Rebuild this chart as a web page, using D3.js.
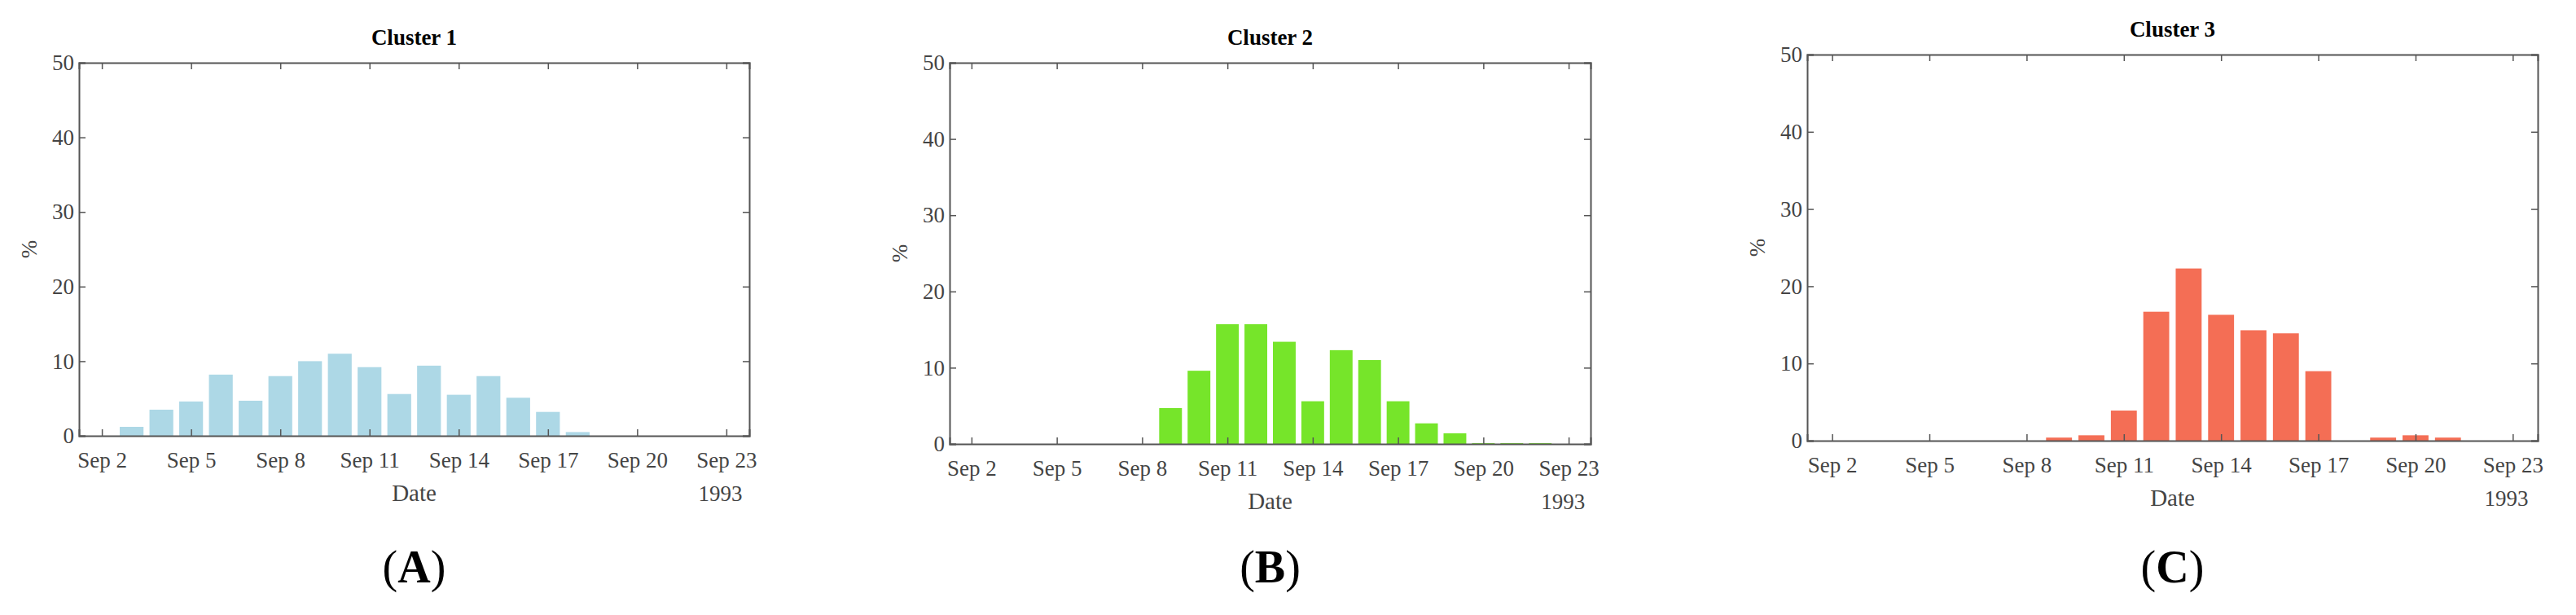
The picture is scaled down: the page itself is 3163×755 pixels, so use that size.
<!DOCTYPE html>
<html lang="en">
<head>
<meta charset="UTF-8">
<script src="https://d3js.org/d3.v7.min.js"></script>
<style>
  body { margin: 0; background: white; }
  svg text { font-family: "Liberation Serif", "DejaVu Serif", serif !important; }
</style>
</head>
<body>
<script>
// day of September 1993 for each bar
var days1 = [3, 4, 5, 6, 7, 8, 9, 10, 11, 12, 13, 14, 15, 16, 17, 18];
var values1 = [1.2, 3.5, 4.6, 8.2, 4.7, 8.0, 10.0, 11.0, 9.2, 5.6, 9.4, 5.5, 8.0, 5.1, 3.2, 0.5];
var days2 = [9, 10, 11, 12, 13, 14, 15, 16, 17, 18, 19, 20, 21, 22];
var values2 = [4.7, 9.6, 15.7, 15.7, 13.4, 5.6, 12.3, 11.0, 5.6, 2.7, 1.4, 0.1, 0.1, 0.1];
var days3 = [9, 10, 11, 12, 13, 14, 15, 16, 17, 19, 20, 21];
var values3 = [0.4, 0.7, 3.9, 16.7, 22.3, 16.3, 14.3, 13.9, 9.0, 0.4, 0.7, 0.4];
var tickDays = [2, 5, 8, 11, 14, 17, 20, 23];
var yTicks = [0, 10, 20, 30, 40, 50];

var panels = [
  {title: "Cluster 1", letter: "A", days: days1, values: values1, color: "#add8e6", box: [97, 77, 920, 535]},
  {title: "Cluster 2", letter: "B", days: days2, values: values2, color: "#76e52a", box: [1166, 77, 1953, 545]},
  {title: "Cluster 3", letter: "C", days: days3, values: values3, color: "#f46e55", box: [2219, 67, 3116, 541]}
];

var svg = d3.select("body").append("svg")
  .attr("width", 3163)
  .attr("height", 755);

panels.forEach(function(p) {
  var x0 = p.box[0], y0 = p.box[1], x1 = p.box[2], y1 = p.box[3];
  var x = d3.scaleLinear().domain([1.23, 23.77]).range([x0, x1]);
  var y = d3.scaleLinear().domain([0, 50]).range([y1, y0]);
  var g = svg.append("g");

  g.selectAll("rect.bar")
    .data(p.days.map((d, i) => [d, p.values[i]]))
    .enter().append("rect")
    .attr("class", "bar")
    .attr("x", d => x(d[0] - 0.4))
    .attr("width", d => x(d[0] + 0.4) - x(d[0] - 0.4))
    .attr("y", d => y(d[1]))
    .attr("height", d => y(0) - y(d[1]))
    .attr("fill", p.color);

  var axisColor = "#555";
  g.append("g").attr("transform", `translate(0,${y1})`)
    .call(d3.axisBottom(x).tickValues(tickDays).tickSize(-8).tickPadding(20).tickFormat(d => "Sep " + d));
  g.append("g").attr("transform", `translate(0,${y0})`)
    .call(d3.axisTop(x).tickValues(tickDays).tickSize(-8).tickFormat(""));
  g.append("g").attr("transform", `translate(${x0},0)`)
    .call(d3.axisLeft(y).tickValues(yTicks).tickSize(-8).tickPadding(6));
  g.append("g").attr("transform", `translate(${x1},0)`)
    .call(d3.axisRight(y).tickValues(yTicks).tickSize(-8).tickFormat(""));
  g.selectAll(".domain").attr("stroke", axisColor).attr("stroke-width", 2);
  g.selectAll(".tick line").attr("stroke", axisColor).attr("stroke-width", 1.5);
  g.selectAll(".tick text")
    .attr("font-family", "Liberation Serif")
    .style("font-size", "27px")
    .attr("fill", "#444");

  var cx = (x0 + x1) / 2;
  g.append("text").attr("x", cx).attr("y", y0 - 22)
    .attr("text-anchor", "middle").style("font-size", "27px").style("font-weight", "bold")
    .text(p.title);
  g.append("text").attr("x", cx).attr("y", y1 + 80)
    .attr("text-anchor", "middle").style("font-size", "29px").attr("fill", "#444")
    .text("Date");
  g.append("text").attr("x", x(22.8)).attr("y", y1 + 80)
    .attr("text-anchor", "middle").style("font-size", "27px").attr("fill", "#444")
    .text("1993");
  g.append("text")
    .attr("transform", `translate(${x0 - 52},${(y0 + y1) / 2}) rotate(-90)`)
    .attr("text-anchor", "middle").style("font-size", "27px").attr("fill", "#444")
    .text("%");
  var lt = g.append("text").attr("x", cx).attr("y", 715)
    .attr("text-anchor", "middle").style("font-size", "56px");
  lt.append("tspan").text("(");
  lt.append("tspan").style("font-weight", "bold").text(p.letter);
  lt.append("tspan").text(")");
});
</script>
</body>
</html>
